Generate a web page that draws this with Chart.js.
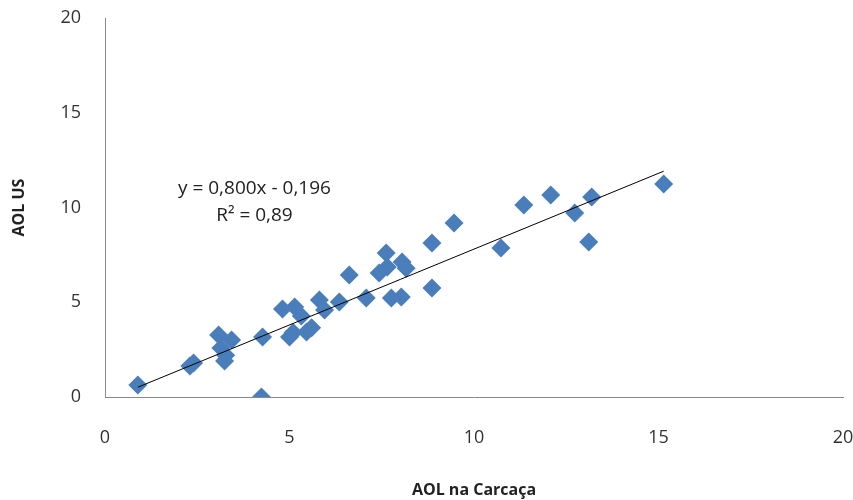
<!DOCTYPE html>
<html>
<head>
<meta charset="utf-8">
<script src="https://cdn.jsdelivr.net/npm/chart.js@4"></script>
<style>
  html, body { margin: 0; padding: 0; background: #fff; }
  #wrap { width: 853px; height: 500px; }
</style>
</head>
<body>
<div id="wrap"><canvas id="chart"></canvas></div>
<script>
// AOL na Carcaça (x) vs AOL US (y)
const carcaca = [0.89, 2.30, 2.40, 3.08, 3.14, 3.43, 3.24, 3.27, 4.27, 4.24, 4.81, 5.00, 5.10,
                 5.14, 5.32, 5.46, 5.60, 5.81, 5.95, 6.35, 6.62, 7.08, 7.43, 7.62, 7.65, 7.76,
                 8.05, 8.16, 8.03, 8.86, 8.86, 9.46, 10.73, 11.35, 12.08, 12.73, 13.19, 13.11, 15.14];
const aolUS   = [0.63, 1.64, 1.80, 3.27, 2.59, 3.01, 1.90, 2.20, 3.17, 0.00, 4.64, 3.17, 3.40,
                 4.75, 4.27, 3.43, 3.65, 5.12, 4.59, 5.01, 6.44, 5.22, 6.54, 7.60, 6.86, 5.22,
                 7.12, 6.80, 5.28, 5.75, 8.13, 9.18, 7.86, 10.13, 10.66, 9.71, 10.55, 8.18, 11.24];
const xTicks = [0, 5, 10, 15, 20];
const yTicks = [0, 5, 10, 15, 20];
const slope = 0.800;
const intercept = -0.196;
const eqLines = ['y = 0,800x - 0,196', 'R² = 0,89'];

const points = carcaca.map((x, i) => ({ x: x, y: aolUS[i] }));
const xMin = Math.min(...carcaca), xMax = Math.max(...carcaca);
const trend = [xMin, xMax].map(x => ({ x: x, y: slope * x + intercept }));

const fontFam = "'Open Sans', 'Liberation Sans', sans-serif";

const equationLabel = {
    id: 'equationLabel',
    afterDatasetsDraw(chart) {
        const ctx = chart.ctx;
        const xs = chart.scales.x, ys = chart.scales.y;
        const cx = xs.getPixelForValue(4.05);
        const cy = ys.getPixelForValue(11.0);
        ctx.save();
        ctx.fillStyle = '#222';
        ctx.font = '19px ' + fontFam;
        ctx.textAlign = 'center';
        ctx.textBaseline = 'middle';
        ctx.fillText(eqLines[0], cx, cy);
        ctx.fillText(eqLines[1], cx, cy + 27);
        ctx.restore();
    }
};

new Chart(document.getElementById('chart'), {
    type: 'scatter',
    data: {
        datasets: [{
            type: 'line',
            data: trend,
            borderColor: '#000',
            borderWidth: 1,
            pointRadius: 0,
            fill: false,
            order: 1
        }, {
            data: points,
            pointStyle: 'rectRot',
            pointRadius: 9.5,
            pointHoverRadius: 9.5,
            backgroundColor: '#4A7EBB',
            borderColor: '#4A7EBB',
            borderWidth: 0,
            order: 2
        }]
    },
    plugins: [equationLabel],
    options: {
        responsive: true,
        maintainAspectRatio: false,
        animation: false,
        layout: { padding: { top: 18, right: 10, left: 0, bottom: 0 } },
        plugins: { legend: { display: false }, tooltip: { enabled: false } },
        scales: {
            x: {
                type: 'linear',
                min: 0, max: 20,
                afterBuildTicks: s => { s.ticks = xTicks.map(v => ({ value: v })); },
                afterFit: s => { s.height = 103; s.paddingLeft = 0; s.paddingRight = 0; },
                grid: { display: false, drawTicks: false },
                border: { color: '#888', width: 1 },
                ticks: { padding: 30, color: '#333', font: { family: fontFam, size: 18 } },
                title: {
                    display: true, text: 'AOL na Carcaça', color: '#222',
                    font: { family: fontFam, size: 16, weight: 'bold' },
                    padding: { top: 10, bottom: 0 }
                }
            },
            y: {
                type: 'linear',
                min: 0, max: 20,
                afterBuildTicks: s => { s.ticks = yTicks.map(v => ({ value: v })); },
                afterFit: s => { s.width = 105; s.paddingTop = 0; s.paddingBottom = 0; },
                grid: { display: false, drawTicks: false },
                border: { color: '#888', width: 1 },
                ticks: { padding: 24, color: '#333', font: { family: fontFam, size: 18 } },
                title: {
                    display: true, text: 'AOL US', color: '#222',
                    font: { family: fontFam, size: 16, weight: 'bold' },
                    padding: { top: 10, bottom: 10 }
                }
            }
        }
    }
});
</script>
</body>
</html>
